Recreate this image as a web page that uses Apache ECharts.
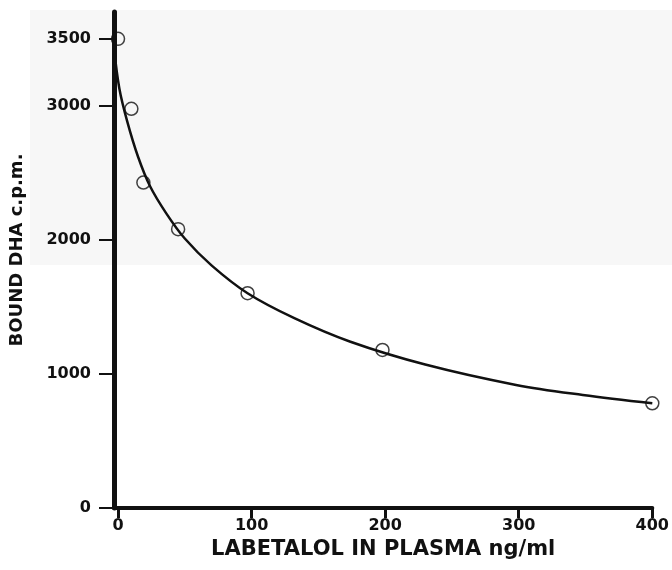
<!DOCTYPE html>
<html><head><meta charset="utf-8">
<script src="https://cdn.jsdelivr.net/npm/echarts@6/dist/echarts.min.js"></script>
<style>html,body{margin:0;padding:0;background:#fff}#c{width:672px;height:570px}</style>
</head><body><div id="c"></div>
<script>
// measured points: labetalol (ng/ml), bound DHA (c.p.m.)
const pointX = [0, 10, 19, 45, 97, 198, 400];
const pointY = [3500, 2978, 2428, 2080, 1602, 1179, 781];
// fitted curve
const curveX = [-3, 1, 7, 15, 24, 36, 50, 70, 97, 132, 174, 230, 298, 348, 400];
const curveY = [3430, 3130, 2880, 2620, 2400, 2200, 2010, 1810, 1602, 1416, 1240, 1070, 918, 843, 781];
const yTicks = [0, 1000, 2000, 3000, 3500];
const xTicks = [0, 100, 200, 300, 400];
const xTitle = 'LABETALOL IN PLASMA ng/ml';
const yTitle = 'BOUND DHA c.p.m.';

const chart = echarts.init(document.getElementById('c'), null, {renderer: 'canvas'});
const font = 'DejaVu Sans';
const ink = '#111';
chart.setOption({
  backgroundColor: '#ffffff',
  animation: false,
  graphic: [{type: 'rect', z: -10, shape: {x: 30, y: 10, width: 642, height: 255}, style: {fill: '#f7f7f7'}}],
  grid: {left: 113, right: 19, top: 12, bottom: 62},
  xAxis: {
    type: 'value', min: -3, max: 400,
    name: xTitle, nameLocation: 'middle', nameGap: 30,
    nameTextStyle: {fontFamily: font, fontWeight: 'bold', fontSize: 21, color: ink},
    axisLine: {show: true, onZero: false, lineStyle: {color: ink, width: 4}},
    axisTick: {show: true, length: 10, lineStyle: {color: ink, width: 3}, customValues: xTicks},
    axisLabel: {fontFamily: font, fontWeight: 'bold', fontSize: 16, color: ink, margin: 10,
      customValues: xTicks, formatter: v => String(v)},
    splitLine: {show: false}
  },
  yAxis: {
    type: 'value', min: 0, max: 3700,
    name: yTitle, nameLocation: 'middle', nameGap: 88, nameRotate: 90,
    nameTextStyle: {fontFamily: font, fontWeight: 'bold', fontSize: 18, color: ink, padding: [0, 0, 0, 20]},
    axisLine: {show: true, onZero: false, lineStyle: {color: ink, width: 5}},
    axisTick: {show: true, length: 15, lineStyle: {color: ink, width: 2}, customValues: yTicks},
    axisLabel: {fontFamily: font, fontWeight: 'bold', fontSize: 16, color: ink, margin: 23,
      customValues: yTicks, formatter: v => String(v)},
    splitLine: {show: false}
  },
  series: [
    {
      type: 'line', smooth: 0.35, symbol: 'none', z: 3,
      lineStyle: {color: ink, width: 2.5},
      data: curveX.map((x, i) => [x, curveY[i]])
    },
    {
      type: 'scatter', symbol: 'circle', symbolSize: 13, z: 4,
      itemStyle: {color: 'rgba(0,0,0,0)', borderColor: ink, borderWidth: 1.5},
      data: pointX.map((x, i) => [x, pointY[i]])
    }
  ]
});
</script></body></html>
